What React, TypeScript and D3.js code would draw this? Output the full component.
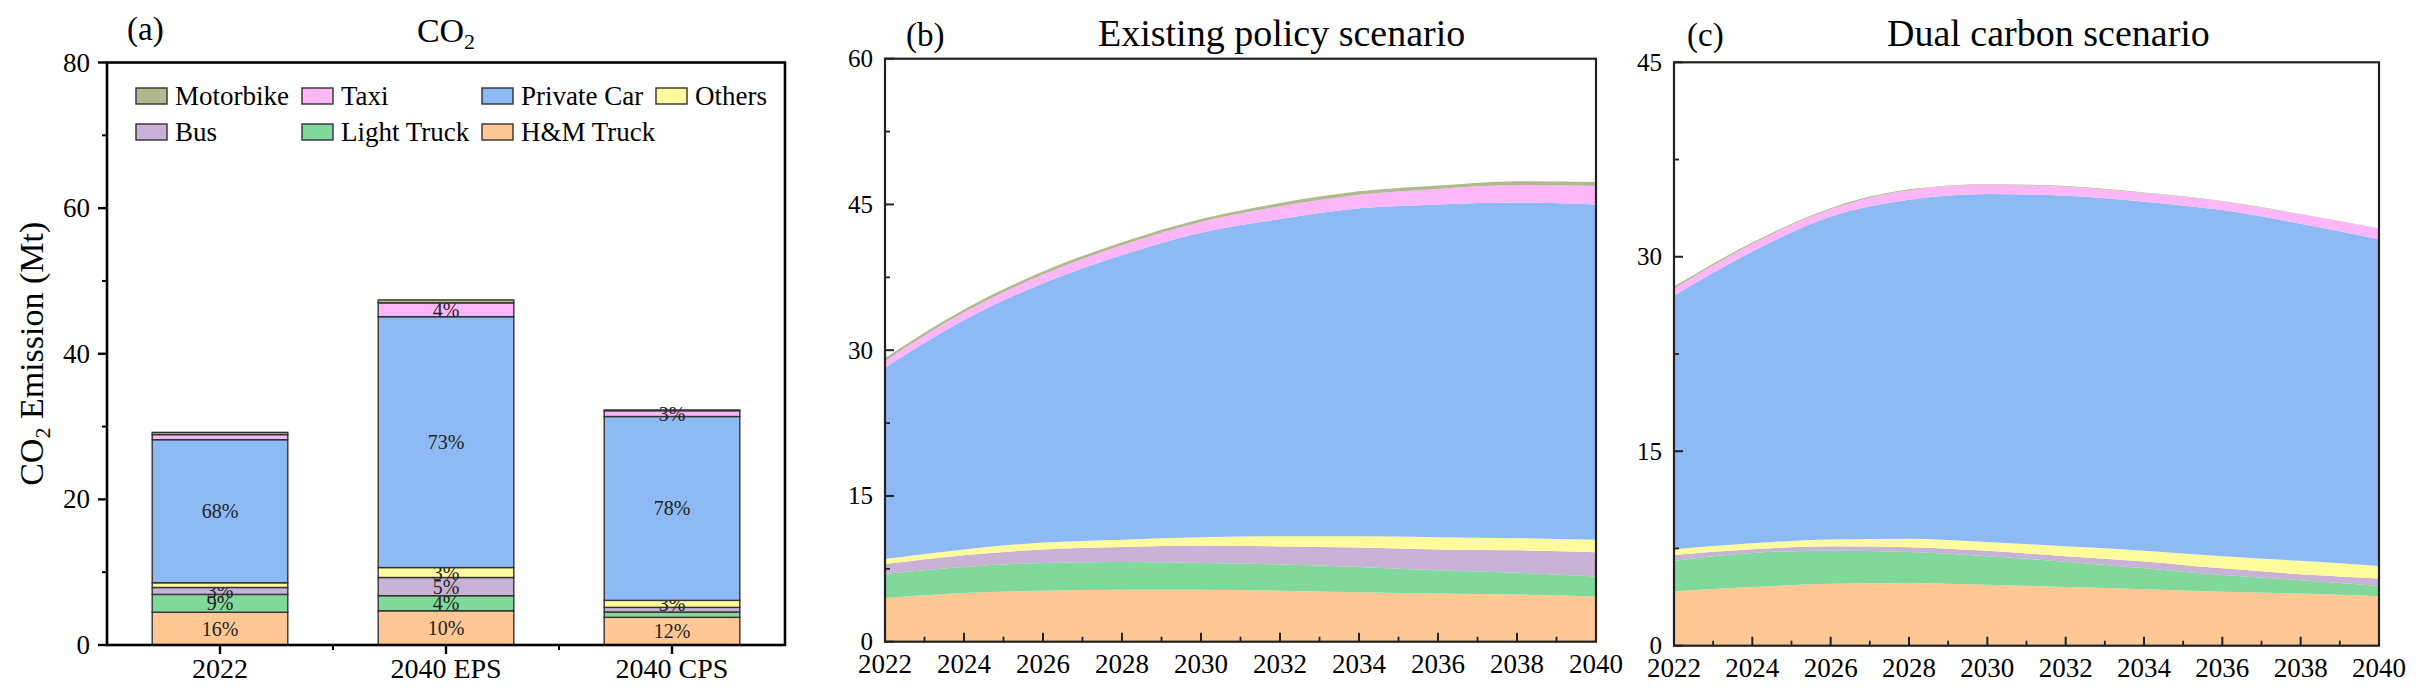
import React from 'react';
import * as d3 from 'd3';

// series order, bottom to top
const keys = ['hm', 'lt', 'bus', 'others', 'pc', 'taxi', 'moto'];
const names: Record<string, string> = {
  moto: 'Motorbike', taxi: 'Taxi', pc: 'Private Car', others: 'Others',
  bus: 'Bus', lt: 'Light Truck', hm: 'H&M Truck',
};
const colors: Record<string, string> = {
  moto: '#b3b98f', taxi: '#fdb6f8', pc: '#8dbaf4', others: '#fdfb9c',
  bus: '#c8b2d6', lt: '#80d89b', hm: '#fec793',
};

// panel (a) bars
const barCats = ['2022', '2040 EPS', '2040 CPS'];
const barHM = [4.5, 4.7, 3.8];
const barLT = [2.45, 2.07, 0.73];
const barBus = [0.95, 2.5, 0.64];
const barOthers = [0.65, 1.37, 0.96];
const barPC = [19.65, 34.45, 25.25];
const barTaxi = [0.7, 1.9, 0.8];
const barMoto = [0.3, 0.4, 0.1];
const barPct: Record<string, string[]> = {
  hm: ['16%', '10%', '12%'],
  lt: ['9%', '4%', ''],
  bus: ['3%', '5%', ''],
  others: ['', '3%', '3%'],
  pc: ['68%', '73%', '78%'],
  taxi: ['', '4%', '3%'],
  moto: ['', '', ''],
};

// panels (b) and (c)
const years = [2022, 2024, 2026, 2028, 2030, 2032, 2034, 2036, 2038, 2040];

const epsHM = [4.5, 5.0, 5.25, 5.35, 5.35, 5.25, 5.1, 4.95, 4.85, 4.65];
const epsLT = [2.5, 2.7, 2.85, 2.85, 2.75, 2.7, 2.6, 2.4, 2.25, 2.05];
const epsBus = [1.0, 1.2, 1.4, 1.55, 1.8, 1.85, 2.0, 2.15, 2.3, 2.5];
const epsOthers = [0.5, 0.6, 0.7, 0.75, 0.85, 1.05, 1.15, 1.25, 1.25, 1.3];
const epsPC = [19.7, 23.6, 26.7, 29.3, 31.35, 32.65, 33.75, 34.25, 34.55, 34.5];
const epsTaxi = [0.7, 0.8, 0.9, 1.0, 1.1, 1.3, 1.4, 1.6, 1.8, 1.9];
const epsMoto = [0.3, 0.3, 0.3, 0.3, 0.3, 0.35, 0.35, 0.35, 0.4, 0.4];

const cpsHM = [4.2, 4.53, 4.77, 4.84, 4.7, 4.53, 4.36, 4.16, 4.02, 3.82];
const cpsLT = [2.35, 2.63, 2.56, 2.39, 2.2, 1.95, 1.61, 1.29, 1.03, 0.78];
const cpsBus = [0.45, 0.27, 0.34, 0.37, 0.43, 0.42, 0.53, 0.52, 0.47, 0.58];
const cpsOthers = [0.43, 0.47, 0.53, 0.65, 0.67, 0.77, 0.83, 0.93, 1.03, 0.97];
const cpsPC = [19.57, 22.5, 24.9, 26.15, 26.85, 27.03, 26.92, 26.7, 26.0, 25.2];
const cpsTaxi = [0.55, 0.6, 0.57, 0.74, 0.7, 0.71, 0.67, 0.67, 0.73, 0.83];
const cpsMoto = [0.15, 0.1, 0.08, 0.06, 0.05, 0.04, 0.03, 0.03, 0.02, 0.02];

const FONT = '"Liberation Serif", "Times New Roman", serif';

function rows(labels: any[], field: string, cols: number[][]) {
  return labels.map((l, i) => {
    const r: any = { [field]: l };
    keys.forEach((k, j) => (r[k] = cols[j][i]));
    return r;
  });
}

const barRows = rows(barCats, 'cat', [barHM, barLT, barBus, barOthers, barPC, barTaxi, barMoto]);
const epsRows = rows(years, 'year', [epsHM, epsLT, epsBus, epsOthers, epsPC, epsTaxi, epsMoto]);
const cpsRows = rows(years, 'year', [cpsHM, cpsLT, cpsBus, cpsOthers, cpsPC, cpsTaxi, cpsMoto]);

const legendRows = [
  ['moto', 'taxi', 'pc', 'others'],
  ['bus', 'lt', 'hm'],
];

function BarPanel() {
  const left = 107, right = 785, top = 62.5, bottom = 645;
  const x = d3.scaleBand().domain(barCats).range([left, right]).paddingInner(0.4).paddingOuter(0.2);
  const y = d3.scaleLinear().domain([0, 80]).range([bottom, top]);
  const stacked = d3.stack<any>().keys(keys)(barRows);
  const legX = [136, 302, 482, 656];
  const legY = [88, 124];

  return (
    <g fontFamily={FONT}>
      {/* each series' labels sit under the next segment, as in the original */}
      {stacked.map((s) => (
        <g key={s.key}>
          {s.map((d, i) => (
            <rect key={i} x={x(d.data.cat)} y={y(d[1])} width={x.bandwidth()}
              height={y(d[0]) - y(d[1])} fill={colors[s.key]} stroke="#333" strokeWidth={1.4} />
          ))}
          {s.map((d, i) => barPct[s.key][i] ? (
            <text key={'t' + i} x={x(d.data.cat)! + x.bandwidth() / 2} y={y((d[0] + d[1]) / 2)}
              textAnchor="middle" dominantBaseline="central" fontSize={20} fill="#222">
              {barPct[s.key][i]}
            </text>
          ) : null)}
        </g>
      ))}

      {/* frame */}
      <rect x={left} y={top} width={right - left} height={bottom - top} fill="none" stroke="#000" strokeWidth={2.6} />

      {/* y axis */}
      {y.ticks(4).map((t) => (
        <g key={t}>
          <line x1={left - 9} x2={left} y1={y(t)} y2={y(t)} stroke="#000" strokeWidth={2.4} />
          <text x={90} y={y(t)} textAnchor="end" dominantBaseline="central" fontSize={27}>{t}</text>
        </g>
      ))}
      {d3.range(10, 80, 20).map((t) => (
        <line key={t} x1={left - 5} x2={left} y1={y(t)} y2={y(t)} stroke="#000" strokeWidth={2} />
      ))}

      {/* x axis */}
      {barCats.map((c) => {
        const cx = x(c)! + x.bandwidth() / 2;
        return (
          <g key={c}>
            <line x1={cx} x2={cx} y1={bottom} y2={bottom + 9} stroke="#000" strokeWidth={2.4} />
            <text x={cx} y={678} textAnchor="middle" fontSize={28}>{c}</text>
          </g>
        );
      })}
      {[1, 2].map((i) => {
        const px = left + i * x.step();
        return <line key={i} x1={px} x2={px} y1={bottom} y2={bottom + 5} stroke="#000" strokeWidth={2} />;
      })}

      {/* legend */}
      {legendRows.map((row, r) => row.map((k, c) => (
        <g key={k}>
          <rect x={legX[c]} y={legY[r]} width={31} height={16} fill={colors[k]} stroke="#333" strokeWidth={1.4} />
          <text x={legX[c] + 39} y={legY[r] + 17} fontSize={27}>{names[k]}</text>
        </g>
      )))}

      {/* titles */}
      <text x={127} y={40} fontSize={33}>(a)</text>
      <text x={(left + right) / 2} y={42} textAnchor="middle" fontSize={34}>
        CO<tspan fontSize={22} dy={7}>2</tspan>
      </text>
      <text transform={`translate(43, ${(top + bottom) / 2}) rotate(-90)`} textAnchor="middle" fontSize={34}>
        CO<tspan fontSize={22} dy={7}>2</tspan><tspan dy={-7}> Emission (Mt)</tspan>
      </text>
    </g>
  );
}

interface AreaProps {
  data: any[];
  left: number; right: number; top: number; bottom: number;
  yMax: number;
  letter: string; letterX: number;
  title: string; titleX: number;
}

function AreaPanel({ data, left, right, top, bottom, yMax, letter, letterX, title, titleX }: AreaProps) {
  const x = d3.scaleLinear().domain([2022, 2040]).range([left, right]);
  const y = d3.scaleLinear().domain([0, yMax]).range([bottom, top]);
  const stacked = d3.stack<any>().keys(keys)(data);
  const area = d3.area<any>()
    .x((d) => x(d.data.year))
    .y0((d) => y(d[0]))
    .y1((d) => y(d[1]))
    .curve(d3.curveMonotoneX);
  const axis = '#222';

  return (
    <g fontFamily={FONT}>
      {stacked.map((s) => (
        <path key={s.key} d={area(s) || ''} fill={colors[s.key]} />
      ))}
      <rect x={left} y={top} width={right - left} height={bottom - top} fill="none" stroke={axis} strokeWidth={2.2} />

      {d3.range(0, yMax + 0.01, 15).map((t) => (
        <g key={t}>
          <line x1={left} x2={left + 9} y1={y(t)} y2={y(t)} stroke={axis} strokeWidth={2} />
          <text x={left - 12} y={y(t)} textAnchor="end" dominantBaseline="central" fontSize={25}>{t}</text>
        </g>
      ))}
      {d3.range(7.5, yMax, 15).map((t) => (
        <line key={t} x1={left} x2={left + 5} y1={y(t)} y2={y(t)} stroke={axis} strokeWidth={1.8} />
      ))}

      {d3.range(2022, 2041, 2).map((t) => (
        <g key={t}>
          <line x1={x(t)} x2={x(t)} y1={bottom} y2={bottom - 9} stroke={axis} strokeWidth={2} />
          <text x={x(t)} y={bottom + 31} textAnchor="middle" fontSize={27}>{t}</text>
        </g>
      ))}
      {d3.range(2023, 2040, 2).map((t) => (
        <line key={t} x1={x(t)} x2={x(t)} y1={bottom} y2={bottom - 5} stroke={axis} strokeWidth={1.8} />
      ))}

      <text x={letterX} y={46} fontSize={33}>{letter}</text>
      <text x={titleX} y={46} fontSize={38}>{title}</text>
    </g>
  );
}

export default function App() {
  return (
    <svg width={2422} height={693} style={{ position: 'absolute', left: 0, top: 0, background: '#fff' }}>
      <BarPanel />
      <AreaPanel data={epsRows} left={885} right={1596} top={58.7} bottom={641.7} yMax={60}
        letter="(b)" letterX={906} title="Existing policy scenario" titleX={1098} />
      <AreaPanel data={cpsRows} left={1674} right={2379} top={62.3} bottom={645.7} yMax={45}
        letter="(c)" letterX={1687} title="Dual carbon scenario" titleX={1887} />
    </svg>
  );
}
